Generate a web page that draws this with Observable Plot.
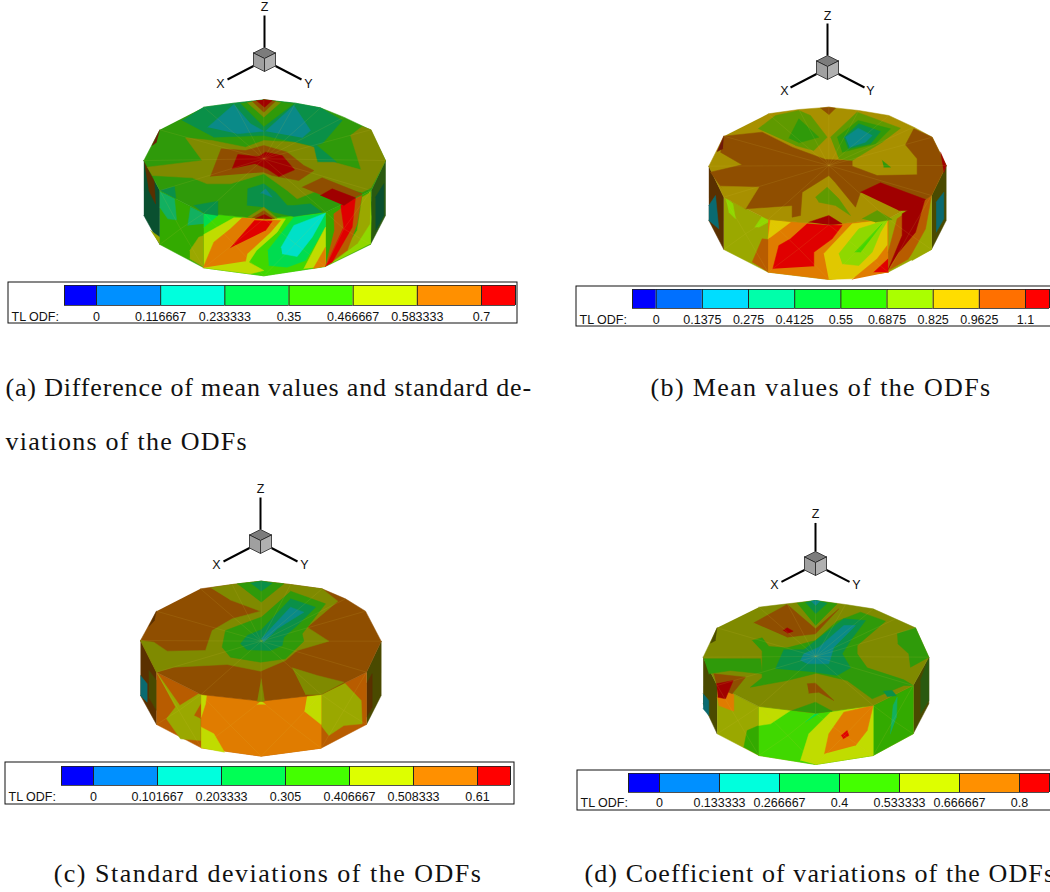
<!DOCTYPE html>
<html><head><meta charset="utf-8">
<script src="https://cdn.jsdelivr.net/npm/d3@7"></script>
<script src="https://cdn.jsdelivr.net/npm/@observablehq/plot@0.6"></script>
<style>html,body{margin:0;padding:0;background:#fff;overflow:hidden}svg{display:block}</style>
</head><body><div id="c"></div>
<script>
// contour colours
const C={teal:"#0a8a88",tg:"#0a9048",g:"#2f9a0a",og:"#5f9a00",ol:"#7f8a00",yo:"#a89000",br:"#8f4e00",dr:"#a00000",
 sCy:"#00e0c8",sGr:"#00dc50",sLi:"#40d800",sMg:"#33aa00",sTg:"#12b060",sYg:"#8fd800",sOl:"#9aa800",sYe:"#c0dc00",sGo:"#e0c800",
 sOr:"#e07c00",sBo:"#b85c00",sRe:"#e00000",dk1:"#0a5030",dk2:"#5a3000",dk3:"#4a4a00",dk4:"#0a6a70",dk5:"#2a5a10",dk6:"#701808"};

const panelA=[
 ["dk1",[40,210,88,300,88,462,40,375]],["dk2",[40,210,70,250,75,340,55,300]],["sOl",[60,420,88,440,88,462]],
 ["dk5",[722,300,765,210,765,375,720,462]],["dk1",[735,320,760,280,760,375,735,420]],
 ["sMg",[88,300,220,368,400,385,585,365,722,300,720,462,585,528,400,556,220,532,88,462]],
 ["sTg",[88,303,132,325,138,388,112,385,88,350]],["sTg",[172,405,180,350,220,368,222,400]],
 ["sOl",[178,480,205,440,220,435,220,530,178,505]],
 ["sLi",[220,368,400,385,585,365,585,528,400,556,220,532]],
 ["sGr",[220,368,262,375,220,410]],
 ["sYe",[220,432,310,382,465,385,440,425,378,480,355,515,400,540,360,550,220,532]],
 ["sOr",[218,532,250,455,300,415,335,382,450,390,420,425,350,490,345,512]],
 ["sRe",[300,472,372,390,425,392,405,420]],
 ["sGr",[412,480,490,380,585,368,585,410,525,510,470,530,415,525]],
 ["sCy",[452,470,490,405,585,368,545,440,500,498,455,490]],
 ["sYe",[520,535,585,410,585,528]],["sOr",[548,535,585,470,585,528]],
 ["sYg",[600,520,660,470,700,400,718,302,722,380,720,460]],
 ["sOl",[600,520,640,480,680,420,695,320,720,305,718,400,680,460]],
 ["sBo",[585,528,612,420,610,370,695,310,680,400,650,480]],
 ["sRe",[585,528,640,410,630,340,675,320,665,410,605,515]],
 ["g",[220,50,310,38,400,28,495,38,570,52,640,80,720,118,765,210,722,300,585,365,400,385,220,368,88,300,40,210,88,118]],
 ["tg",[155,90,220,50,310,38,400,28,495,38,570,52,635,90,575,160,620,218,565,215,540,165,400,135,250,140]],
 ["g",[560,165,660,130,695,238,620,215]],
 ["teal",[232,110,310,42,360,100,400,122,320,130]],["teal",[405,122,490,45,540,120,515,142]],
 ["g",[330,38,400,108,490,40,400,28]],["ol",[350,36,400,80,450,36,400,28]],["br",[365,32,400,65,435,32,400,28]],["dr",[378,30,402,50,425,30,400,28]],
 ["ol",[50,230,215,210,165,142,245,150,345,170,400,150,490,155,550,170,560,215,610,215,692,238,660,135,695,108,722,118,765,210,722,292,695,305,600,285,500,325,470,300,400,250,300,280,230,280,185,262,65,255]],
 ["br",[240,258,272,175,345,180,400,165,470,185,520,225,550,240,505,270,425,255,400,245]],
 ["br",[515,290,575,262,695,310,635,340]],
 ["dr",[305,235,322,192,385,198,405,185,455,195,492,238,445,258,410,235,375,220]],
 ["dr",[570,315,605,295,675,322,640,345]],
 ["tg",[350,345,352,295,400,280,435,305,470,345,490,345,540,340,575,365,490,378,430,365,400,350]],
 ["teal",[390,308,405,295,425,320,400,310]],
 ["tg",[88,300,132,288,136,325]],["tg",[190,345,262,332,262,375,220,368]],
 ["ol",[350,381,400,350,440,383,400,385]],["br",[365,382,400,360,432,384,400,385]],["dr",[375,384,402,372,425,385,400,385]],
 ["dk6",[88,118,65,165,78,155]]
];
const panelB=[
 ["dk2",[40,212,85,305,85,462,40,375]],["dk4",[40,330,60,300,70,400,40,375]],
 ["dk3",[708,300,752,210,752,375,708,462]],["dk4",[722,320,745,290,745,370,722,410]],
 ["sOl",[85,305,218,372,400,388,578,370,708,300,708,462,578,530,400,552,218,530,85,462]],
 ["sBo",[170,500,200,430,220,432,218,530]],
 ["sYg",[90,305,112,325,120,370,100,350]],["sYg",[178,395,205,355,248,345,240,375,218,380,190,395]],
 ["sOr",[218,372,400,388,578,370,578,530,400,552,218,530]],
 ["sGo",[218,430,225,372,285,380,225,425]],
 ["sRe",[232,520,250,450,285,430,335,385,440,390,410,430,355,470,355,512]],
 ["sGo",[385,475,470,385,575,372,575,470,535,510,470,550,400,552]],
 ["sYg",[430,475,490,400,578,372,555,410,530,470,490,510,440,505]],
 ["sLi",[478,470,560,385,495,470]],
 ["sOr",[470,552,545,490,575,450,578,530]],["sRe",[535,530,578,490,578,530]],
 ["sBo",[578,470,605,370,708,300,690,400,640,490,578,525]],
 ["dr",[578,522,620,420,620,355,688,312,660,410,610,470]],
 ["sOl",[640,490,705,410,708,462,650,495]],
 ["yo",[218,55,310,42,400,35,490,45,580,60,655,95,710,125,752,210,708,300,578,370,400,388,218,372,85,305,40,212,85,122]],
 ["br",[85,122,200,110,290,155,390,192,470,195,470,212,545,240,665,238,665,190,630,148,655,100,710,125,752,210,708,300,680,318,600,292,495,290,480,335,420,262,400,240,320,290,315,360,290,365,290,330,150,340,110,300,75,272,45,230,140,208,75,170]],
 ["yo",[75,272,190,275,150,340,110,318]],
 ["dr",[495,290,555,262,690,312,640,345,610,345]],
 ["og",[188,100,240,60,310,45,345,60,395,125,355,165,300,150]],["g",[280,128,310,70,370,125,310,142]],
 ["og",[405,125,485,50,615,98,560,140,470,195,430,190]],["g",[425,125,488,75,585,100,540,145,440,170]],
 ["tg",[445,125,490,85,555,108,525,145,458,160]],["teal",[450,125,488,98,530,120,510,140,462,155]],
 ["og",[360,305,395,275,430,310,465,360,420,330,370,320]],
 ["g",[560,195,585,215,565,215]],
 ["og",[500,370,545,345,590,372,540,380]],
 ["br",[375,38,400,35,420,38,400,58]],["dr",[340,380,400,360,440,385,400,388]],
 ["dk6",[85,122,65,168,82,160]],["dr",[735,170,752,210,745,232]]
];
const panelC=[
 ["dk2",[30,210,78,305,78,462,30,375]],["dk3",[55,300,78,330,78,420,55,380]],["dk4",[30,315,50,340,50,395,30,375]],
 ["dk3",[708,305,752,212,752,375,708,462]],["dk2",[708,340,725,310,725,410,708,440]],
 ["sBo",[78,305,212,372,392,392,572,372,708,305,708,462,572,533,392,557,212,532,78,462]],
 ["sOl",[78,305,148,405,240,348,190,435,210,445,210,510,150,505,108,445,135,410]],
 ["sOl",[572,372,640,335,692,390,695,460,640,465,595,495,572,465]],
 ["sOr",[212,372,392,392,572,372,572,533,392,557,212,532]],
 ["sYe",[212,372,228,375,225,400,212,440]],["sYe",[530,375,572,372,572,462,522,422]],
 ["sYe",[212,470,250,490,282,545,212,532]],
 ["sYe",[380,402,392,392,405,402]],
 ["br",[210,55,305,42,392,32,480,42,575,55,645,85,705,122,752,212,708,305,572,372,392,392,212,372,78,305,30,210,78,122]],
 ["ol",[240,52,305,42,392,32,480,42,575,55,622,92,530,170,595,212,500,240,465,270,390,302,290,282,130,290,78,305,30,210,70,215,110,242,225,240,245,180,305,145,390,122,298,88]],
 ["ol",[485,292,560,315,640,335,572,372,525,372]],
 ["ol",[392,325,402,392,380,392]],
 ["g",[320,40,392,32,460,40,392,95]],["tg",[360,38,392,32,425,38,392,62]],
 ["g",[480,62,585,100,515,190,520,212,465,265,390,275,300,260,275,230,285,180,392,140]],
 ["tg",[480,85,555,110,500,165,460,200,455,225,420,240,350,238,330,220,350,195,392,178]],
 ["teal",[392,205,480,110,520,125,440,175,400,215]],
 ["dk2",[78,122,55,168,72,150]]
];
const panelD=[
 ["dk3",[38,200,80,285,80,430,38,340]],["dk4",[38,310,55,330,55,375,38,355]],
 ["dk3",[668,285,715,200,715,340,668,430]],["dk5",[690,270,715,200,715,330,690,370]],
 ["sOl",[80,285,205,348,375,368,548,345,668,285,668,430,548,495,375,522,205,495,80,430]],
 ["sOr",[80,320,110,300,130,310,130,362,85,345]],
 ["sMg",[160,470,170,420,205,405,205,495]],
 ["sMg",[548,345,668,285,668,430,548,495]],
 ["sTg",[600,430,608,345,620,320,618,380]],
 ["sLi",[205,348,375,368,548,345,548,495,375,522,205,495]],
 ["sYe",[205,348,300,360,240,400,205,405]],
 ["sGr",[345,395,375,368,385,370]],
 ["sYe",[330,510,355,430,420,365,548,345,548,495,375,522]],
 ["sOr",[402,490,415,430,460,365,548,345,530,420,495,465]],
 ["sRe",[452,435,470,420,475,435,458,445]],
 ["ol",[205,50,290,40,375,30,465,42,548,55,615,85,675,112,715,200,668,285,548,345,375,368,205,348,80,285,38,200,80,112]],
 ["g",[185,150,215,142,235,168,290,172,375,150,440,92,510,65,585,92,500,165,500,190,530,232,640,268,668,285,640,285,545,325,470,270,378,248,290,270,180,290,215,262,215,182]],
 ["g",[40,205,210,205,215,250,120,240,55,250]],
 ["g",[620,130,675,112,715,200,660,230,655,190,622,160]],
 ["tg",[255,235,280,178,340,178,460,85,525,90,480,150,455,190,480,232,440,255,375,245]],
 ["teal",[330,210,340,190,385,170,460,105,495,105,430,170,415,220,350,220]],
 ["br",[190,97,290,42,375,115,410,85,445,55,375,130,290,140]],["dr",[278,120,290,112,308,122,292,128]],
 ["g",[320,38,375,30,440,40,375,105]],["tg",[345,36,375,30,410,38,375,70]],["teal",[362,32,375,30,388,32,375,45]],
 ["br",[350,280,375,278,430,330,385,305,355,308]],
 ["g",[305,360,375,335,425,362,375,368]],
 ["tg",[578,302,605,300,618,316,590,318]],
 ["br",[70,250,165,260,125,310,80,290]],["dr",[78,280,128,270,105,325,82,320]],
 ["dk3",[80,112,60,158,75,150]]
];
// [crop origin x, y] of each solid
const origins=[[130,90],[695,95],[130,570],[690,590]];
const solids=[panelA,panelB,panelC,panelD];
// rim outlines (top) and lower rim, same crop units
const hubs=[[400,205],[400,210],[392,212],[375,198]];
const topRims=[
 [400,28,495,38,570,52,640,80,720,118,765,210,722,300,585,365,400,385,220,368,88,300,40,210,88,118,220,50,310,38],
 [400,35,490,45,580,60,655,95,710,125,752,210,708,300,578,370,400,388,218,372,85,305,40,212,85,122,218,55,310,42],
 [392,32,480,42,575,55,645,85,705,122,752,212,708,305,572,372,392,392,212,372,78,305,30,210,78,122,210,55,305,42],
 [375,30,465,42,548,55,615,85,675,112,715,200,668,285,548,345,375,368,205,348,80,285,38,200,80,112,205,50,290,40]];
const stars=[
 [[150,415,88,300,220,368,220,532,88,462],[310,460,220,368,400,385,400,556,220,532],[495,460,400,385,585,365,585,528,400,556],[640,415,585,365,722,300,720,462,585,528]],
 [[150,415,85,305,218,372,218,530,85,462],[310,460,218,372,400,388,400,552,218,530],[490,460,400,388,578,370,578,530,400,552],[640,415,578,370,708,300,708,462,578,530]],
 [[145,420,78,305,212,372,212,532,78,462],[300,465,212,372,392,392,392,557,212,532],[482,465,392,392,572,372,572,533,392,557],[640,420,572,372,708,305,708,462,572,533]],
 [[142,390,80,285,205,348,205,495,80,430],[292,435,205,348,375,368,375,522,205,495],[462,435,375,368,548,345,548,495,375,522],[608,390,548,345,668,285,668,430,548,495]]];

const cool8=["#0000ff","#0090ff","#00ffdd","#00ff55","#44ff00","#ddff00","#ff9000","#ff0000"];
const cool10=["#0000ff","#0070ff","#00ddff","#00ffaa","#00ff44","#33ff00","#aaff00","#ffdd00","#ff7000","#ff0000"];
const levelsA=[0,0.116667,0.233333,0.35,0.466667,0.583333,0.7];
const labelsA=["0","0.116667","0.233333","0.35","0.466667","0.583333","0.7"];
const levelsB=[0,0.1375,0.275,0.4125,0.55,0.6875,0.825,0.9625,1.1];
const labelsB=["0","0.1375","0.275","0.4125","0.55","0.6875","0.825","0.9625","1.1"];
const levelsC=[0,0.101667,0.203333,0.305,0.406667,0.508333,0.61];
const labelsC=["0","0.101667","0.203333","0.305","0.406667","0.508333","0.61"];
const levelsD=[0,0.133333,0.266667,0.4,0.533333,0.666667,0.8];
const labelsD=["0","0.133333","0.266667","0.4","0.533333","0.666667","0.8"];
const bars=[
 {lv:levelsA,lb:labelsA,col:cool8,box:[8,517,282,323],bar:[64,515,285,305],px:[96,481],ly:316},
 {lv:levelsB,lb:labelsB,col:cool10,box:[576,1060,286,326],bar:[632,1049,289,308],px:[655.7,1025],ly:319},
 {lv:levelsC,lb:labelsC,col:cool8,box:[5,514,762,804],bar:[61,510,766,785],px:[93,477],ly:796},
 {lv:levelsD,lb:labelsD,col:cool8,box:[577,1060,770,810],bar:[628,1049,773,792],px:[659,1019],ly:802}];
const triads=[[264,58,1],[827,66,1],[260,540,1],[815,562,0.92]];
const triadLabels=[
 [[264,6,"Z"],[220,83,"X"],[308,83,"Y"]],
 [[827,15,"Z"],[784,90,"X"],[870,90,"Y"]],
 [[260,488,"Z"],[216,564,"X"],[304,564,"Y"]],
 [[815,513,"Z"],[774,584,"X"],[856,584,"Y"]]];
const captions=[
 [5,387,"start","(a) Difference of mean values and standard de-"],
 [5,441,"start","viations of the ODFs"],
 [820.5,387,"middle","(b) Mean values of the ODFs"],
 [267.5,873,"middle","(c) Standard deviations of the ODFs"],
 [584,873,"start","(d) Coefficient of variations of the ODFs"]];
const captionTracking=[0.83,1.25,1.37,1.5,1.1];

// build tables
const polyRows=[];let pid=0;
solids.forEach((s,i)=>{const [ox,oy]=origins[i];
 s.forEach(([c,a])=>{pid++;for(let k=0;k<a.length;k+=2)polyRows.push({id:pid,c:C[c],x:ox+a[k]/3,y:oy+a[k+1]/3});});});
const mesh=[];
origins.forEach(([ox,oy],i)=>{const t=topRims[i],h=hubs[i];
 for(let k=0;k<t.length;k+=2)mesh.push({x1:ox+h[0]/3,y1:oy+h[1]/3,x2:ox+t[k]/3,y2:oy+t[k+1]/3});
 stars[i].forEach(a=>{for(let k=2;k<a.length;k+=2)mesh.push({x1:ox+a[0]/3,y1:oy+a[1]/3,x2:ox+a[k]/3,y2:oy+a[k+1]/3});});
});
const barRects=[],barTicks=[],barLabels=[],boxes=[];
bars.forEach(b=>{
 const top=b.lv[b.lv.length-1],f=v=>b.px[0]+v/top*(b.px[1]-b.px[0]);
 const edges=[b.bar[0],...b.lv.map(f),b.bar[1]];
 b.col.forEach((c,i)=>barRects.push({x1:edges[i],x2:edges[i+1],y1:b.bar[2],y2:b.bar[3],c}));
 edges.forEach(e=>barTicks.push({x:e,y1:b.bar[2],y2:b.bar[3]}));
 b.lv.forEach((v,i)=>barLabels.push({x:f(v),y:b.ly,t:b.lb[i]}));
 barLabels.push({x:b.box[0]+3,y:b.ly,t:"TL ODF:",a:1});
 boxes.push({x1:b.box[0],x2:b.box[1],y1:b.box[2],y2:b.box[3]});
});
const cubeFaces=[["#7c7c7c",[0,-11,11,-5.5,0,0,-11,-5.5]],["#a0a0a0",[-11,-5.5,0,0,0,13,-11,7.5]],["#b0b0b0",[11,-5.5,0,0,0,13,11,7.5]]];
const cubeRows=[],arms=[];let cid=0;
triads.forEach(([cx,cy,s])=>{
 arms.push({x1:cx,y1:cy-11,x2:cx,y2:cy-43*s},{x1:cx-11,y1:cy+7.5,x2:cx-37*s,y2:cy+21*s},{x1:cx+11,y1:cy+7.5,x2:cx+37*s,y2:cy+21*s});
 cubeFaces.forEach(([c,a])=>{cid++;for(let k=0;k<=a.length;k+=2){const q=k%a.length;cubeRows.push({id:cid,c,x:cx+a[q],y:cy+a[q+1]});}});
});
const tl=triadLabels.flat().map(([x,y,t])=>({x,y,t}));
const cap=captions.map(([x,y,a,t])=>({x,y,a,t}));

const chart=Plot.plot({width:1050,height:892,margin:0,
 x:{domain:[0,1050],range:[0,1050],axis:null},y:{domain:[0,892],range:[0,892],axis:null},color:{type:"identity"},
 style:{background:"#fff"},
 marks:[
  Plot.line(polyRows,{x:"x",y:"y",z:"id",fill:"c",stroke:"c",strokeWidth:0.5}),
  Plot.link(mesh,{x1:"x1",y1:"y1",x2:"x2",y2:"y2",stroke:"#d8c040",strokeOpacity:0.18,strokeWidth:0.7}),
  Plot.rect(boxes,{x1:"x1",x2:"x2",y1:"y1",y2:"y2",fill:"#fff",stroke:"#111",strokeWidth:1}),
  Plot.rect(barRects,{x1:"x1",x2:"x2",y1:"y1",y2:"y2",fill:"c"}),
  Plot.ruleX(barTicks,{x:"x",y1:"y1",y2:"y2",stroke:"#222",strokeWidth:1}),
  Plot.ruleY(barRects,{y:"y1",x1:"x1",x2:"x2",stroke:"#222",strokeWidth:0.8}),
  Plot.ruleY(barRects,{y:"y2",x1:"x1",x2:"x2",stroke:"#222",strokeWidth:0.8}),
  Plot.text(barLabels.filter(d=>!d.a),{x:"x",y:"y",text:"t",fontSize:12.5,fontFamily:"Liberation Sans",fill:"#111"}),
  Plot.text(barLabels.filter(d=>d.a),{x:"x",y:"y",text:"t",fontSize:12.5,fontFamily:"Liberation Sans",fill:"#111",textAnchor:"start"}),
  Plot.link(arms,{x1:"x1",y1:"y1",x2:"x2",y2:"y2",stroke:"#000",strokeWidth:2}),
  Plot.line(cubeRows,{x:"x",y:"y",z:"id",fill:"c",stroke:"#222",strokeWidth:0.8}),
  Plot.text(tl,{x:"x",y:"y",text:"t",fontSize:12.5,fontFamily:"Liberation Sans",fill:"#111"}),
  Plot.text(cap.filter(d=>d.a=="start"),{x:"x",y:"y",text:"t",fontSize:26,fontFamily:"Liberation Serif",fill:"#111",textAnchor:"start",className:"cap"}),
  Plot.text(cap.filter(d=>d.a=="middle"),{x:"x",y:"y",text:"t",fontSize:26,fontFamily:"Liberation Serif",fill:"#111",textAnchor:"middle",className:"cap"})
 ]});
document.getElementById("c").appendChild(chart);
const capNodes=[...chart.querySelectorAll(".cap text")];
capNodes.forEach(n=>{const i=captions.findIndex(c=>c[3]===n.textContent);if(i>=0)n.style.letterSpacing=captionTracking[i]+"px";});
</script></body></html>
